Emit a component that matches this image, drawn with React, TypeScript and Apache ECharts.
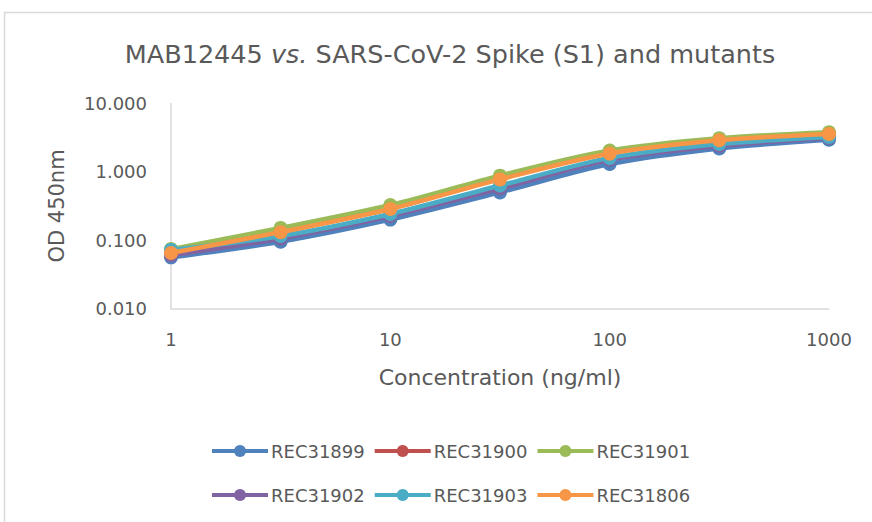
import React, { useEffect, useRef } from "react";
import * as echarts from "echarts";

const concentrations = [1, 3.16, 10, 31.6, 100, 316, 1000];
const seriesNames = ["REC31899", "REC31900", "REC31901", "REC31902", "REC31903", "REC31806"];
const rec31899 = [0.056, 0.095, 0.2, 0.5, 1.3, 2.2, 2.95];
const rec31900 = [0.066, 0.135, 0.29, 0.8, 1.92, 2.95, 3.6];
const rec31901 = [0.074, 0.151, 0.327, 0.88, 2.05, 3.1, 3.8];
const rec31902 = [0.06, 0.106, 0.226, 0.57, 1.5, 2.4, 3.13];
const rec31903 = [0.072, 0.115, 0.242, 0.63, 1.6, 2.55, 3.24];
const rec31806 = [0.065, 0.131, 0.286, 0.775, 1.85, 2.9, 3.58];
const seriesValues = [rec31899, rec31900, rec31901, rec31902, rec31903, rec31806];
const colors = ["#4F81BD", "#C0504D", "#9BBB59", "#8064A2", "#4BACC6", "#F79646"];
const xTicks = [1, 10, 100, 1000];
const yTicks = [0.01, 0.1, 1, 10];

const FONT = "DejaVu Sans";
const GREY = "#595959";

export default function App() {
  const ref = useRef<HTMLDivElement>(null);
  useEffect(() => {
    if (!ref.current) return;
    const chart = echarts.init(ref.current, undefined, { renderer: "svg" });
    const series = seriesNames.map((name, i) => ({
      name,
      type: "line",
      data: concentrations.map((c, j) => [c, seriesValues[i][j]]),
      smooth: 0.3,
      symbol: "circle",
      symbolSize: 14,
      lineStyle: { width: 4.5, color: colors[i] },
      itemStyle: { color: colors[i] },
      z: 2 + i,
    }));
    const legendBase = {
      left: 205,
      itemWidth: 56,
      itemHeight: 15,
      itemGap: 8,
      lineStyle: { width: 4 },
      textStyle: { fontFamily: FONT, fontSize: 18, color: GREY, padding: [0, 0, 0, -2] },
    };
    chart.setOption({
      animation: false,
      textStyle: { fontFamily: FONT },
      graphic: [
        {
          type: "rect",
          shape: { x: 4.5, y: 12.5, width: 1000, height: 1000 },
          style: { fill: "none", stroke: "#d9d9d9", lineWidth: 1.5 },
          silent: true,
        },
      ],
      title: {
        text: "{a|MAB12445 }{b|vs.}{a| SARS-CoV-2 Spike (S1) and mutants}",
        left: 445,
        top: 36,
        textAlign: "center",
        textStyle: {
          fontWeight: "normal",
          rich: {
            a: { fontFamily: FONT, fontSize: 25.5, color: GREY, fontWeight: "normal" },
            b: { fontFamily: FONT, fontSize: 25.5, color: GREY, fontStyle: "italic", fontWeight: "normal" },
          },
        },
      },
      grid: { left: 171, right: 43, top: 103.5, bottom: 213.5 },
      xAxis: {
        type: "log",
        logBase: 10,
        min: xTicks[0],
        max: xTicks[xTicks.length - 1],
        name: "Concentration (ng/ml)",
        nameLocation: "middle",
        nameGap: 58,
        nameTextStyle: { fontFamily: FONT, fontSize: 22, color: GREY },
        axisLine: { lineStyle: { color: "#d9d9d9", width: 1.5 } },
        axisTick: { show: false },
        splitLine: { show: false },
        axisLabel: {
          fontFamily: FONT,
          fontSize: 18,
          color: GREY,
          margin: 22,
          formatter: (v: number) => String(Math.round(v)),
        },
      },
      yAxis: {
        type: "log",
        logBase: 10,
        min: yTicks[0],
        max: yTicks[yTicks.length - 1],
        name: "OD 450nm",
        nameLocation: "middle",
        nameGap: 104,
        nameTextStyle: { fontFamily: FONT, fontSize: 21, color: GREY },
        axisLine: { show: true, lineStyle: { color: "#d9d9d9", width: 1.5 } },
        axisTick: { show: false },
        splitLine: { show: false },
        axisLabel: {
          fontFamily: FONT,
          fontSize: 18,
          color: GREY,
          margin: 24,
          formatter: (v: number) => v.toFixed(3),
        },
      },
      legend: [
        { ...legendBase, data: seriesNames.slice(0, 3), top: 437 },
        { ...legendBase, data: seriesNames.slice(3), top: 481 },
      ],
      series,
    });
    return () => chart.dispose();
  }, []);
  return (
    <div
      ref={ref}
      style={{ position: "fixed", left: 0, top: 0, width: 872, height: 522, background: "#fff" }}
    />
  );
}
